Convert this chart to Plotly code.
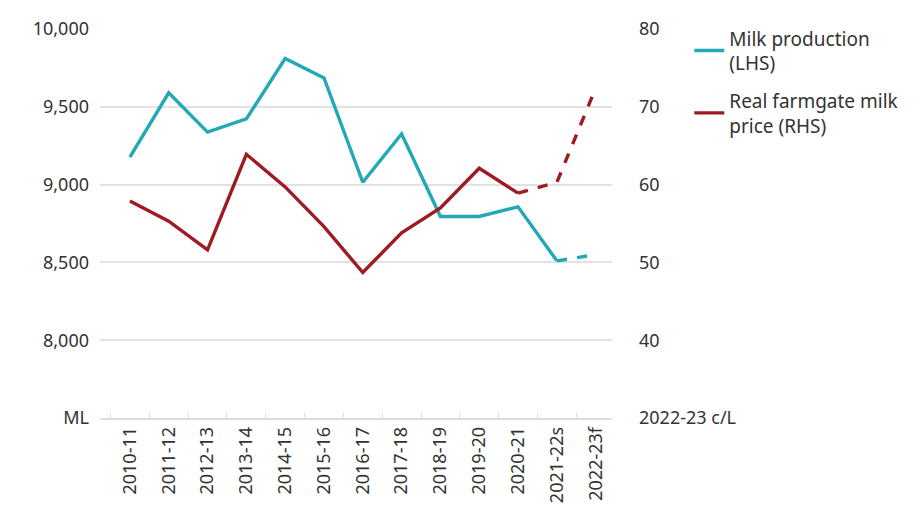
import plotly.graph_objects as go

years = ["2010-11", "2011-12", "2012-13", "2013-14", "2014-15", "2015-16", "2016-17",
         "2017-18", "2018-19", "2019-20", "2020-21", "2021-22s", "2022-23f"]
milk = [9177, 9590, 9337, 9422, 9810, 9685, 9015, 9325, 8795, 8795, 8857, 8510, 8550]
price = [57.9, 55.3, 51.6, 63.9, 59.7, 54.6, 48.7, 53.8, 57.0, 62.1, 58.9, 60.3, 72.4]
milk_actual_n = 12   # points drawn solid (through 2021-22s)
price_actual_n = 11  # points drawn solid (through 2020-21)

left_ticks = [7500, 8000, 8500, 9000, 9500, 10000]
left_text = ["ML", "8,000", "8,500", "9,000", "9,500", "10,000"]
right_ticks = [30, 40, 50, 60, 70, 80]
right_text = ["2022-23 c/L", "40", "50", "60", "70", "80"]

TEAL = "#22a9b5"
RED = "#9e1b24"
FONT = "Noto Sans"
TXT = "#333333"

fig = go.Figure()
fig.add_trace(go.Scatter(x=years[:milk_actual_n], y=milk[:milk_actual_n], mode="lines",
                         line=dict(color=TEAL, width=3.4), name="Milk production<br>(LHS)",
                         legendgroup="milk", yaxis="y"))
fig.add_trace(go.Scatter(x=years[milk_actual_n - 1:], y=milk[milk_actual_n - 1:], mode="lines",
                         line=dict(color=TEAL, width=3.4, dash="dash"), showlegend=False,
                         legendgroup="milk", yaxis="y"))
fig.add_trace(go.Scatter(x=years[:price_actual_n], y=price[:price_actual_n], mode="lines",
                         line=dict(color=RED, width=3.4), name="Real farmgate milk<br>price (RHS)",
                         legendgroup="price", yaxis="y2"))
fig.add_trace(go.Scatter(x=years[price_actual_n - 1:], y=price[price_actual_n - 1:], mode="lines",
                         line=dict(color=RED, width=3.4, dash="dash"), showlegend=False,
                         legendgroup="price", yaxis="y2"))

fig.update_layout(
    width=917, height=516,
    margin=dict(l=100, r=305, t=29, b=98),
    paper_bgcolor="white", plot_bgcolor="white",
    font=dict(family=FONT, size=18, color=TXT),
    showlegend=True,
    legend=dict(x=1.151, y=1.025, xanchor="left", yanchor="top",
                font=dict(size=19, color=TXT), tracegroupgap=10,
                bgcolor="rgba(0,0,0,0)"),
    xaxis=dict(type="category", categoryorder="array", categoryarray=years,
               range=[-0.77, 12.42], tickangle=-90, showgrid=False,
               showline=True, linecolor="#dddddd", linewidth=1.5,
               ticks="inside", tickson="boundaries", ticklen=5, tickcolor="#dddddd",
               tickfont=dict(size=18, color=TXT), zeroline=False),
    yaxis=dict(range=[7500, 10000], tickvals=left_ticks, ticktext=left_text,
               showgrid=True, gridcolor="#e2e2e2", gridwidth=1.5, zeroline=False,
               showline=False, ticks="", ticklabelstandoff=10,
               tickfont=dict(size=18, color=TXT)),
    yaxis2=dict(range=[30, 80], tickvals=right_ticks, ticktext=right_text,
                overlaying="y", side="right", showgrid=False, zeroline=False,
                showline=False, ticks="", ticklabelstandoff=26,
                tickfont=dict(size=18, color=TXT)),
)

fig.write_html("out.html")
